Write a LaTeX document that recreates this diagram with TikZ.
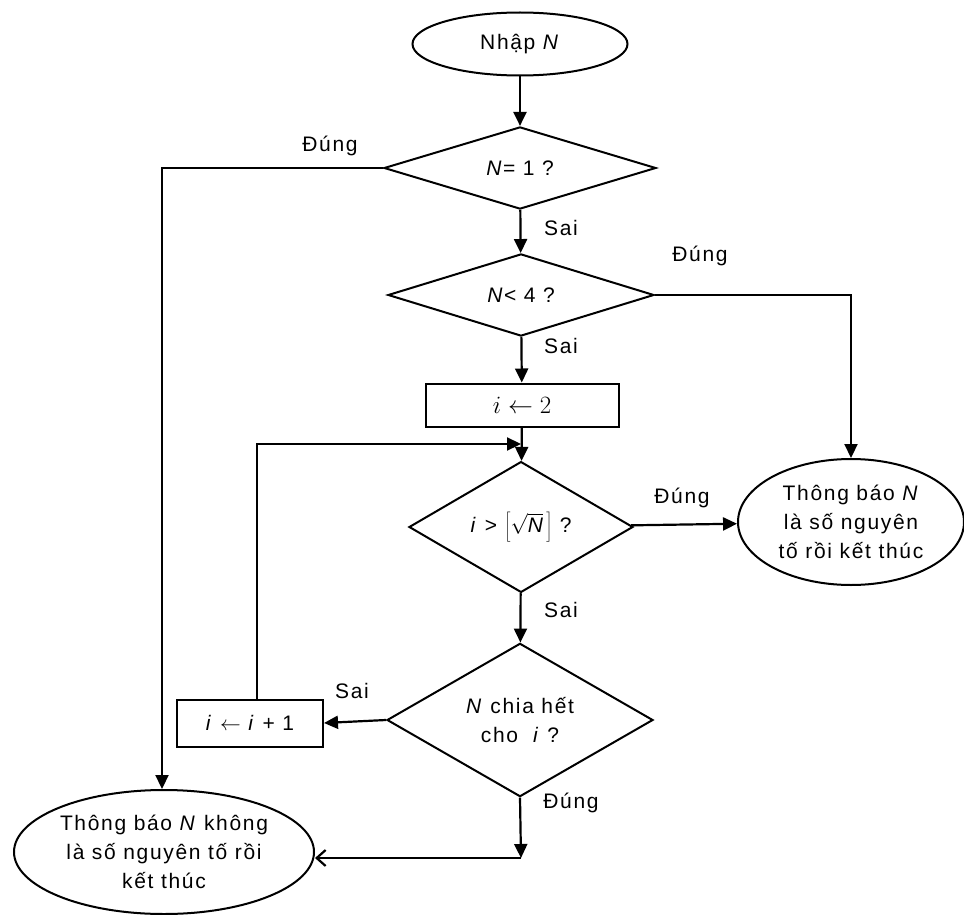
\documentclass[tikz,border=0pt]{standalone}
\usepackage{fontspec}
\setmainfont{Liberation Sans}[LetterSpace=8]
\usetikzlibrary{shapes.geometric,arrows.meta}
\begin{document}
\begin{tikzpicture}[x=1pt,y=-1pt,
  font=\fontsize{21}{29}\selectfont,
  shapeline/.style={draw, line width=2pt, inner sep=0pt},
  term/.style={shapeline, ellipse, align=center},
  decision/.style={shapeline, diamond, align=center},
  process/.style={shapeline, rectangle},
  conn/.style={line width=2.2pt, -{Triangle[length=14pt,width=13pt]}},
  openconn/.style={line width=2.2pt, -{Straight Barb[length=9pt,width=16pt,line width=2.2pt]}},
  lbl/.style={inner sep=0pt}]
\useasboundingbox (0,0) rectangle (964,915);
\fill[white] (0,0) rectangle (964,915);

% nodes
\node[term, minimum width=215pt, minimum height=63pt] (start) at (520,44) {Nhập \textit{N}};
\node[decision, minimum width=272pt, minimum height=70pt] (d1) at (520,168) {\textit{N}= 1 ?};
\node[decision, minimum width=266pt, minimum height=68pt] (d2) at (521,295) {\textit{N}< 4 ?};
\node[process, minimum width=193pt, minimum height=43pt] (b1) at (522,405) {\fontsize{31}{33}\selectfont $i \leftarrow 2$};
\node[decision, minimum width=224pt, minimum height=114pt] (d3) at (521,527) {\textit{i} > $\left[\sqrt{\textit{N}}\,\right]$ ?};
\node[term, minimum width=226pt, minimum height=126pt] (yes) at (851,522) {Thông báo \textit{N}\\là số nguyên\\tố rồi kết thúc};
\node[decision, minimum width=266pt, minimum height=108pt] (d4) at (520,720) {\textit{N} chia hết\\cho \ \textit{i} ?};
\node[process, minimum width=146pt, minimum height=47pt] (b2) at (250,723) {\textit{i} $\leftarrow$ \textit{i} + 1};
\node[term, minimum width=300pt, minimum height=124pt] (no) at (164,852) {Thông báo \textit{N} không\\là số nguyên tố rồi\\kết thúc};

% helper coordinates
\coordinate (c1) at (162,168);
\coordinate (c2) at (851,295);
\coordinate (c3) at (257,444);
\coordinate (c4) at (521,444);
\coordinate (c5) at (521,858);

% connectors
\draw[conn] (start) -- (d1);
\draw[conn] (d1.west) -- (c1) -- (c1 |- no.north);
\draw[conn] (d1) -- (d2);
\draw[conn] (d2.east) -- (c2) -- (yes.north);
\draw[conn] (d2) -- (b1);
\draw[conn] (b1) -- (d3);
\draw[conn] (b2.north -| c3) -- (c3) -- (c4);
\draw[conn] (d3) -- (yes);
\draw[conn] (d3) -- (d4);
\draw[conn] (d4.west) -- (b2.east);
\draw[conn] (d4.south) -- (c5);
\draw[openconn] (c5) -- (c5 -| no.east);

% labels
\node[lbl] (l1) at (330,146) {Đúng};
\node[lbl] (l2) at (561,228) {Sai};
\node[lbl] (l3) at (700,256) {Đúng};
\node[lbl] (l4) at (561,346) {Sai};
\node[lbl] (l5) at (682,498) {Đúng};
\node[lbl] (l6) at (561,610) {Sai};
\node[lbl] (l7) at (352,691) {Sai};
\node[lbl] (l8) at (571,803) {Đúng};
\end{tikzpicture}
\end{document}
